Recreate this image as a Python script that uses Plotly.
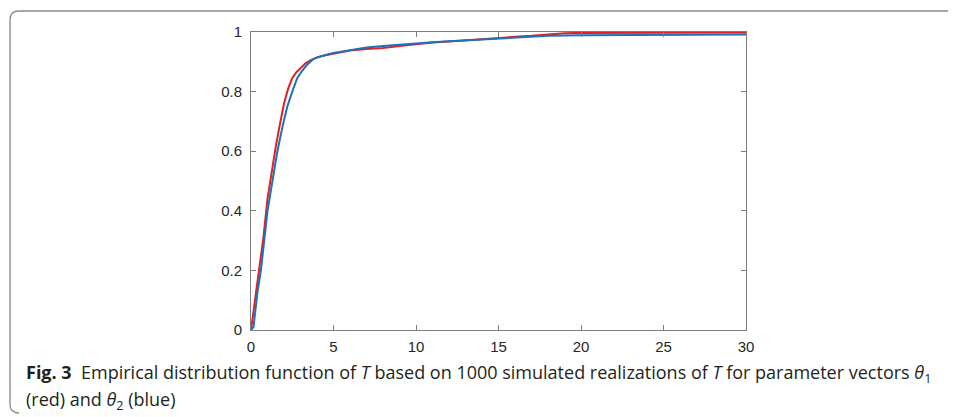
import plotly.graph_objects as go

# Empirical CDF of T, parameter vector theta_1 (red)
red_x = [0, 0.25, 0.5, 0.75, 1.0, 1.25, 1.5, 1.75, 2.0, 2.25, 2.5, 2.75, 3.0, 3.3, 3.6, 4.0, 4.5,
         5.0, 5.5, 6.0, 7.0, 8.0, 9.0, 10.0, 11.0, 12.0, 13.0, 14.0, 15.0, 16.0, 17.0, 18.0, 19.0,
         20.0, 22.0, 25.0, 30.0]
red_y = [0, 0.10, 0.20, 0.31, 0.44, 0.53, 0.615, 0.69, 0.76, 0.81, 0.845, 0.865, 0.88, 0.895, 0.905,
         0.915, 0.922, 0.927, 0.932, 0.938, 0.943, 0.946, 0.953, 0.959, 0.965, 0.968, 0.972, 0.978,
         0.982, 0.984, 0.987, 0.991, 0.996, 0.997, 0.997, 0.998, 0.998]

# Empirical CDF of T, parameter vector theta_2 (blue)
blue_x = [0, 0.15, 0.4, 0.6, 0.8, 1.0, 1.3, 1.6, 1.9, 2.2, 2.5, 2.8, 3.1, 3.4, 3.8, 4.2, 5.0, 6.0,
          7.0, 8.0, 9.0, 10.0, 11.0, 12.0, 13.0, 14.0, 15.0, 16.0, 17.0, 18.0, 20.0, 22.0, 25.0, 30.0]
blue_y = [0, 0.01, 0.13, 0.20, 0.30, 0.40, 0.50, 0.60, 0.68, 0.75, 0.80, 0.845, 0.87, 0.89, 0.91,
          0.918, 0.93, 0.94, 0.948, 0.953, 0.958, 0.962, 0.966, 0.969, 0.972, 0.975, 0.977, 0.980,
          0.984, 0.987, 0.989, 0.990, 0.991, 0.992]

x_ticks = [0, 5, 10, 15, 20, 25, 30]
y_ticks = [0, 0.2, 0.4, 0.6, 0.8, 1]
y_tick_labels = ["0", "0.2", "0.4", "0.6", "0.8", "1"]

caption_line1 = ("<b>Fig. 3</b>  Empirical distribution function of <i>T</i> based on 1000 simulated "
                 "realizations of <i>T</i> for parameter vectors <i>θ</i><sub>1</sub>")
caption_line2 = "(red) and <i>θ</i><sub>2</sub> (blue)"

# page is shown with the browser's default 8px body margin
OFF = 8
PAGE_W, PAGE_H = 956, 417
W, H = PAGE_W - OFF, PAGE_H - OFF
L, R, T, B = 251 - OFF, 210, 32 - OFF, 87
pw, ph = W - L - R, H - T - B


def px(x_page):
    return (x_page - OFF - L) / pw


def py(y_page):
    return (H - B - (y_page - OFF)) / ph


fig = go.Figure()
fig.add_trace(go.Scatter(x=red_x, y=red_y, mode="lines",
                         line=dict(color="#e61e25", width=2), showlegend=False))
fig.add_trace(go.Scatter(x=blue_x, y=blue_y, mode="lines",
                         line=dict(color="#1a72bb", width=2), showlegend=False))

axis_common = dict(showline=True, mirror="ticks", linecolor="#7d7d7d", linewidth=1,
                   ticks="inside", ticklen=5, tickcolor="#7d7d7d", showgrid=False,
                   zeroline=False, tickfont=dict(family="Liberation Sans", size=15,
                                                 color="#262626"))
fig.update_xaxes(range=[0, 30], tickvals=x_ticks, ticklabelstandoff=3, **axis_common)
fig.update_yaxes(range=[0, 1], tickvals=y_ticks, ticktext=y_tick_labels,
                 ticklabelstandoff=5, **axis_common)

# rounded frame (top line and left edge of the figure panel)
r = 9
path = (f"M {px(PAGE_W + 5)},{py(11)} L {px(10 + r)},{py(11)} Q {px(10)},{py(11)} {px(10)},{py(11 + r)} "
        f"L {px(10)},{py(413 - r)} Q {px(10)},{py(413)} {px(10 + r)},{py(413)}")
fig.add_shape(type="path", path=path, xref="paper", yref="paper",
              line=dict(color="#8a8a8a", width=1.3))

cap_font = dict(family="Open Sans", size=18, color="#231f20")
fig.add_annotation(text=caption_line1, x=px(24), y=py(373), xref="paper", yref="paper",
                   xanchor="left", yanchor="middle", showarrow=False, font=cap_font)
fig.add_annotation(text=caption_line2, x=px(24), y=py(400), xref="paper", yref="paper",
                   xanchor="left", yanchor="middle", showarrow=False, font=cap_font)

fig.update_layout(width=W, height=H, margin=dict(l=L, r=R, t=T, b=B),
                  plot_bgcolor="white", paper_bgcolor="white")

fig.write_html("out.html")
